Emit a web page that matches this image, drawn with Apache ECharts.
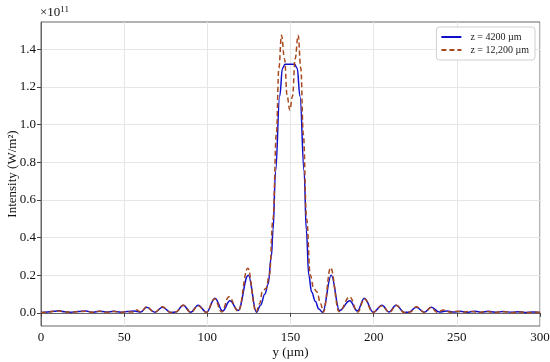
<!DOCTYPE html>
<html><head><meta charset="utf-8">
<script src="https://cdn.jsdelivr.net/npm/echarts@6/dist/echarts.min.js"></script>
<style>html,body{margin:0;padding:0;background:#fff}#c{width:550px;height:362px}</style>
</head><body><div id="c"></div>
<script>
// y position (µm) and intensity (×1e11 W/m²), z = 4200 µm
const yPos4200 = [0, 4, 8, 11, 14, 18, 22, 27, 31, 35, 39, 44, 48, 52, 56, 60, 63.5, 68.5, 73, 78, 81, 85.5, 90, 94.5, 99.5, 104.6, 109.2, 113.6, 118.5, 124.6, 129.6, 132, 134.6, 136.5, 138.5, 139.5, 141, 143.5, 145.2, 146.8, 152.4, 154, 155.7, 158.2, 159.5, 161, 162.7, 165, 167, 169.3, 174.5, 179.5, 185.6, 190.2, 194.4, 199.8, 205, 209.2, 213.5, 218.5, 221, 225.6, 230.5, 234.6, 239.5, 244, 248, 252, 256, 261, 265, 269, 273, 278, 283, 287, 291, 296, 300];
const int4200 = [0.002, 0.004, 0.009, 0.011, 0.006, 0.003, 0.007, 0.010, 0.003, 0.009, 0.004, 0.008, 0.003, 0.007, 0.010, 0.004, 0.030, 0.003, 0.030, 0.002, 0.004, 0.040, 0.003, 0.040, 0.003, 0.078, 0.010, 0.064, 0.012, 0.200, 0.003, 0.040, 0.100, 0.150, 0.300, 0.440, 0.750, 1.150, 1.300, 1.320, 1.320, 1.300, 1.150, 0.750, 0.440, 0.200, 0.110, 0.060, 0.020, 0.003, 0.200, 0.012, 0.064, 0.010, 0.078, 0.003, 0.040, 0.004, 0.040, 0.002, 0.003, 0.030, 0.003, 0.030, 0.004, 0.010, 0.004, 0.008, 0.003, 0.009, 0.003, 0.008, 0.003, 0.007, 0.003, 0.006, 0.002, 0.005, 0.002];
// z = 12,200 µm
const yPos12200 = [0, 4, 8, 11, 14, 18, 22, 27, 31, 35, 39, 44, 48, 52, 55, 57.4, 60, 63.5, 68.3, 73, 77.8, 81, 85.5, 90, 94.5, 99.3, 104.4, 108.6, 113, 118.6, 124.3, 129.3, 131.5, 133, 135.3, 137.3, 139.5, 141.5, 143, 144.6, 146.4, 148, 149.6, 151.2, 152.8, 154.6, 156.2, 157.7, 159.7, 161.9, 164, 166, 168, 169.8, 174.1, 179.2, 185.6, 190.4, 194.4, 199.5, 205, 209.5, 213.5, 218.5, 222, 225.6, 230.5, 234.6, 238, 242, 246, 250, 254, 258, 263, 268, 273, 278, 283, 288, 293, 297, 300];
const int12200 = [0.002, 0.003, 0.008, 0.010, 0.005, 0.003, 0.006, 0.009, 0.003, 0.008, 0.003, 0.007, 0.003, 0.006, 0.004, 0.015, 0.004, 0.032, 0.002, 0.032, 0.002, 0.004, 0.040, 0.002, 0.038, 0.002, 0.075, 0.004, 0.085, 0.008, 0.237, 0.004, 0.050, 0.110, 0.130, 0.200, 0.500, 0.950, 1.300, 1.475, 1.350, 1.150, 1.077, 1.150, 1.350, 1.475, 1.300, 0.950, 0.500, 0.200, 0.130, 0.110, 0.050, 0.004, 0.240, 0.006, 0.085, 0.004, 0.075, 0.002, 0.038, 0.002, 0.040, 0.002, 0.004, 0.032, 0.002, 0.030, 0.003, 0.015, 0.003, 0.008, 0.003, 0.008, 0.002, 0.007, 0.002, 0.006, 0.002, 0.005, 0.002, 0.004, 0.002];
const seriesNames = ['z = 4200 µm', 'z = 12,200 µm'];
const xTicks = [0, 50, 100, 150, 200, 250, 300];
const yTicks = [0, 0.2, 0.4, 0.6, 0.8, 1.0, 1.2, 1.4];

const zip = (a, b) => a.map((v, i) => [v, b[i]]);
const font = 'Liberation Serif';
const chart = echarts.init(document.getElementById('c'), null, {renderer: 'canvas'});
chart.setOption({
  animation: false,
  backgroundColor: '#fff',
  textStyle: {fontFamily: font},
  grid: {left: 41, right: 10, top: 22, bottom: 36, show: true, borderColor: '#666', borderWidth: 1,
    containLabel: false, outerBoundsMode: 'none'},
  legend: {
    data: seriesNames, orient: 'vertical', right: 15, top: 27,
    itemWidth: 20, itemHeight: 8, itemGap: 3,
    itemStyle: {opacity: 0},
    backgroundColor: '#fff', borderColor: '#d0d0d0', borderWidth: 1, borderRadius: 3,
    padding: [5, 6, 5, 4],
    textStyle: {fontFamily: font, fontSize: 10, color: '#222', padding: [0, 0, 0, 4]}
  },
  xAxis: {
    type: 'value', min: 0, max: 300, interval: 50,
    name: 'y (µm)', nameLocation: 'middle', nameGap: 20, nameMoveOverlap: false,
    nameTextStyle: {fontFamily: font, fontSize: 13, color: '#111'},
    axisLine: {show: true, lineStyle: {color: '#666'}},
    axisTick: {show: true, length: 4, lineStyle: {color: '#444'}},
    axisLabel: {fontFamily: font, fontSize: 13, color: '#111', margin: 5},
    splitLine: {show: true, lineStyle: {color: '#e6e6e6'}}
  },
  yAxis: {
    type: 'value', min: -0.07, max: 1.545,
    name: 'Intensity (W/m²)', nameLocation: 'middle', nameGap: 22, nameRotate: 90, nameMoveOverlap: false,
    nameTextStyle: {fontFamily: font, fontSize: 13, color: '#111'},
    axisLine: {show: true, onZero: false, lineStyle: {color: '#666'}},
    axisTick: {show: true, length: 4, customValues: yTicks, lineStyle: {color: '#444'}},
    axisLabel: {fontFamily: font, fontSize: 13, color: '#111', margin: 5, customValues: yTicks,
      formatter: v => v.toFixed(1)},
    splitLine: {show: true, lineStyle: {color: '#e6e6e6'}}
  },
  graphic: [{
    type: 'text', left: 40, top: 5,
    style: {text: '×10{s|11}', font: '13px "Liberation Serif"', fill: '#111',
      rich: {s: {fontSize: 9, verticalAlign: 'top', padding: [0, 0, 6, 0], fontFamily: font}}}
  }],
  series: [{
    name: seriesNames[0], type: 'line', data: zip(yPos4200, int4200),
    symbol: 'none', smooth: 0.4, smoothMonotone: 'x',
    lineStyle: {color: '#1010cc', width: 1.5}, itemStyle: {color: '#1010cc'}, z: 3
  }, {
    name: seriesNames[1], type: 'line', data: zip(yPos12200, int12200),
    symbol: 'none', smooth: 0.4, smoothMonotone: 'x',
    lineStyle: {color: '#a8481e', width: 1.5, type: [5, 3]}, itemStyle: {color: '#a8481e'}, z: 4
  }]
});
</script></body></html>
